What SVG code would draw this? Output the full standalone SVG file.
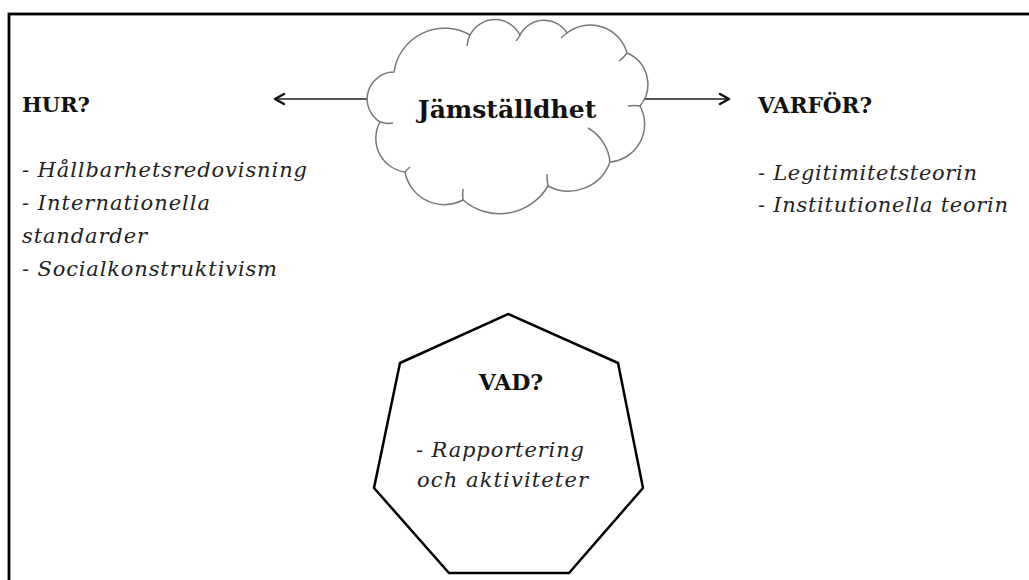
<svg xmlns="http://www.w3.org/2000/svg" width="1029" height="580" viewBox="0 0 1029 580">
  <defs>
    <style>
      .b { font-family: "DejaVu Serif", "Liberation Serif", serif; font-weight: bold; fill: #111; }
      .i { font-family: "DejaVu Serif", "Liberation Serif", serif; font-style: italic; fill: #222; font-size: 21px; }
      .conn { stroke: #555; stroke-width: 2; fill: none; }
      .head { stroke: #111; stroke-width: 2.5; fill: none; stroke-linecap: round; stroke-linejoin: round; }
      .cloud { fill: #fff; stroke: #777; stroke-width: 1.5; }
      .curl { fill: none; stroke: #777; stroke-width: 1.5; }
    </style>
  </defs>
  <rect x="0" y="0" width="1029" height="580" fill="#fff"/>
  <rect x="9" y="14" width="1040" height="620" fill="none" stroke="#000" stroke-width="2.8"/>

  <g id="connectors">
    <line class="conn" x1="369" y1="99" x2="276" y2="99"/>
    <polyline class="head" points="284,94 275,99 284,104"/>
    <line class="conn" x1="644" y1="99" x2="727" y2="99"/>
    <polyline class="head" points="720,94 729,99 720,104"/>
  </g>

  <g id="cloud">
    <path class="cloud" d="M394,72 A51,51 0 0 1 470,35 A28,28 0 0 1 520,35 A27,27 0 0 1 567,33 A38,38 0 0 1 627,53 A34,34 0 0 1 640,106 A38,38 0 0 1 610,162 A44,44 0 0 1 548,186 A56,56 0 0 1 463,200 A40,40 0 0 1 405,172 A34,34 0 0 1 380,122 A27,27 0 0 1 394,72 Z"/>
    <path class="curl" d="M470,35 A28,28 0 0 0 467,46"/>
    <path class="curl" d="M520,35 A27,27 0 0 1 516,41"/>
    <path class="curl" d="M567,33 A38,38 0 0 0 561,38"/>
    <path class="curl" d="M627,53 A34,34 0 0 1 619,61"/>
    <path class="curl" d="M640,106 A38,38 0 0 0 628,106"/>
    <path class="curl" d="M610,162 A44,44 0 0 0 588,128"/>
    <path class="curl" d="M548,186 A56,56 0 0 1 547,174"/>
    <path class="curl" d="M463,200 A40,40 0 0 1 463,189"/>
    <path class="curl" d="M405,172 A34,34 0 0 1 410,167"/>
    <path class="curl" d="M380,122 A27,27 0 0 0 393,123"/>
    <text class="b" x="507" y="118" font-size="25" text-anchor="middle">Jämställdhet</text>
  </g>

  <g id="hur">
    <text class="b" x="22" y="112" font-size="21">HUR?</text>
    <text class="i" x="22" y="177" textLength="285" lengthAdjust="spacing">- Hållbarhetsredovisning</text>
    <text class="i" x="22" y="210" textLength="188" lengthAdjust="spacing">- Internationella</text>
    <text class="i" x="22" y="243" textLength="125" lengthAdjust="spacing">standarder</text>
    <text class="i" x="22" y="276" textLength="255" lengthAdjust="spacing">- Socialkonstruktivism</text>
  </g>

  <g id="varfor">
    <text class="b" x="758" y="113" font-size="21.5">VARFÖR?</text>
    <text class="i" x="758" y="180" textLength="219" lengthAdjust="spacing">- Legitimitetsteorin</text>
    <text class="i" x="758" y="212" textLength="250" lengthAdjust="spacing">- Institutionella teorin</text>
  </g>

  <g id="vad">
    <polygon points="508,314 618,363 643,488 569,573 449,573 374,488 400,363" fill="#fff" stroke="#000" stroke-width="2.5" stroke-linejoin="miter"/>
    <text class="b" x="511" y="390" font-size="22" text-anchor="middle">VAD?</text>
    <text class="i" x="416" y="457" textLength="168" lengthAdjust="spacing">- Rapportering</text>
    <text class="i" x="417" y="487" textLength="171" lengthAdjust="spacing">och aktiviteter</text>
  </g>
</svg>
